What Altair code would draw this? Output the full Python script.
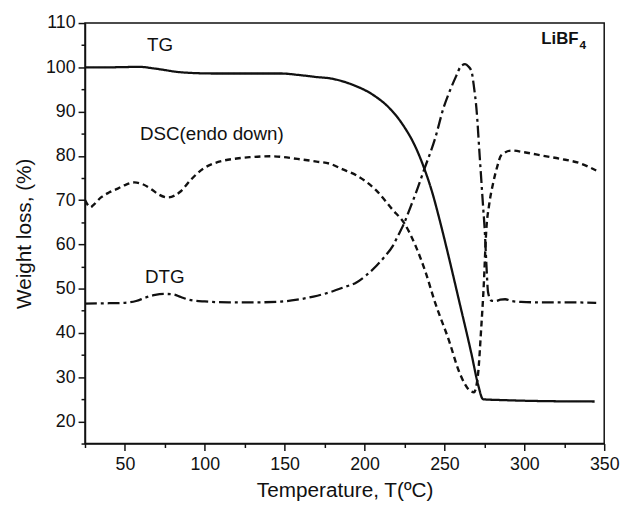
import altair as alt
import pandas as pd

# ---- data ----
tg_T = [25, 40, 59, 69, 86, 106, 148, 158, 170, 178.4, 192.9, 205.2, 215.5, 223.8, 232, 237.1, 242.3, 247, 252, 259, 267, 271, 274.2, 288, 310, 344]
tg_y = [100.0, 100.0, 100.1, 99.7, 98.85, 98.6, 98.6, 98.3, 97.8, 97.5, 96.0, 93.8, 90.8, 87.1, 81.9, 77.4, 71.8, 65.5, 58.2, 47.5, 35.1, 28.4, 25.0, 24.8, 24.6, 24.5]

dsc_T = [25, 28.5, 30, 35, 40, 45.5, 50, 56, 61, 66, 71, 77, 81, 85, 91, 99, 105, 111.5, 120, 128, 142, 158, 170, 178.4, 186, 194.9, 207.3, 217.6, 224.8, 232, 238.2, 244, 253, 259, 263, 266, 268.5, 271, 273, 274.5, 276.2, 278, 280.4, 283, 285.5, 292, 300, 312, 323, 335, 345]
dsc_y = [70.0, 68.4, 68.8, 70.6, 71.7, 72.6, 73.4, 74.0, 73.6, 72.6, 71.3, 70.6, 71.0, 72.0, 74.5, 77.1, 78.2, 78.9, 79.4, 79.7, 79.9, 79.3, 78.7, 78.2, 77.0, 75.6, 72.2, 67.8, 64.8, 59.6, 53.7, 47.0, 38.1, 31.4, 28.3, 26.9, 26.6, 30.6, 41.0, 50.0, 63.3, 69.0, 73.7, 77.5, 80.1, 81.2, 80.8, 80.0, 79.3, 78.3, 76.7]

dtg_T = [25, 40, 50, 57, 63, 69, 75, 80, 85, 90, 100, 115, 130, 145, 157.8, 168, 178.4, 187, 194.9, 201, 207.3, 212.5, 217.6, 221, 224.8, 228.5, 232, 237.1, 244.3, 249.4, 253.5, 257.7, 260, 262.9, 265, 267, 268.5, 270, 272.1, 274.2, 275.2, 276.2, 277.3, 279.3, 282, 285, 288, 292, 298, 310, 325, 345]
dtg_y = [46.6, 46.7, 46.8, 47.2, 48.0, 48.6, 48.8, 48.7, 48.1, 47.5, 47.1, 46.9, 46.9, 47.0, 47.5, 48.2, 49.2, 50.3, 51.4, 53.0, 55.1, 57.2, 59.6, 62.0, 64.8, 68.2, 71.5, 76.7, 84.1, 90.8, 94.8, 98.3, 100.1, 100.7, 100.2, 99.0, 95.5, 90.8, 79.7, 68.5, 63.3, 55.9, 49.2, 47.3, 47.2, 47.5, 47.6, 47.2, 47.0, 46.9, 46.9, 46.8]

ann_text = ["TG", "DSC(endo down)", "DTG"]
ann_x = [72, 104.4, 75]
ann_y = [105, 85, 52.7]

title_main = "LiBF"
title_sub = "4"
title_x = [333.9]
title_y = [105.3]

x_ticks = list(range(25, 351, 25))
y_ticks = list(range(15, 111, 5))

FONT = "Liberation Sans"
INK = "#111111"

xs = alt.Scale(domain=[25, 350], nice=False, zero=False)
ys = alt.Scale(domain=[15, 110], nice=False, zero=False)

xaxis = alt.Axis(
    values=x_ticks,
    labelExpr="datum.value % 50 === 0 ? datum.label : ''",
    tickSize={"condition": {"test": "datum.value % 50 === 0", "value": 7}, "value": 4},
    title="Temperature, T(ºC)",
    grid=False,
    labelPadding=5,
    titlePadding=7,
)
yaxis = alt.Axis(
    values=y_ticks,
    labelExpr="datum.value % 10 === 0 ? datum.label : ''",
    tickSize={"condition": {"test": "datum.value % 10 === 0", "value": 7}, "value": 4},
    title="Weight loss, (%)",
    grid=False,
    labelPadding=3,
    titlePadding=11,
)

tg = pd.DataFrame({"T": tg_T, "v": tg_y})
dsc = pd.DataFrame({"T": dsc_T, "v": dsc_y})
dtg = pd.DataFrame({"T": dtg_T, "v": dtg_y})
ann = pd.DataFrame({"label": ann_text, "T": ann_x, "v": ann_y})
ttl = pd.DataFrame({"T": title_x, "v": title_y})

pos = dict(x=alt.X("T:Q", scale=xs, axis=xaxis), y=alt.Y("v:Q", scale=ys, axis=yaxis))


def line(df, dash, w):
    return alt.Chart(df).mark_line(
        color=INK, strokeWidth=w, strokeDash=dash, interpolate="monotone", clip=True
    ).encode(**pos)


l_tg = line(tg, [1, 0], 2.3)
l_dsc = line(dsc, [6, 4], 2.4)
l_dtg = line(dtg, [12, 4, 3, 4], 2.3)

t_ann = alt.Chart(ann).mark_text(
    font=FONT, fontSize=19, color=INK, align="center", baseline="middle"
).encode(text="label:N", **pos)

t_main = alt.Chart(ttl).mark_text(
    font=FONT, fontSize=17, fontWeight="bold", color=INK, align="right", baseline="alphabetic",
    text=title_main,
).encode(**pos)

t_sub = alt.Chart(ttl).mark_text(
    font=FONT, fontSize=12, fontWeight="bold", color=INK, align="left", baseline="alphabetic",
    dx=1, dy=5, text=title_sub,
).encode(**pos)

chart = alt.layer(l_tg, l_dsc, l_dtg, t_ann, t_main, t_sub).properties(
    width=526, height=426,
    padding={"left": 5, "top": 3, "right": 0, "bottom": 0},
).configure_view(
    stroke=INK, strokeWidth=1.5
).configure_axis(
    labelFont=FONT, labelFontSize=18, labelColor=INK,
    titleFont=FONT, titleFontSize=21, titleFontWeight="normal", titleColor=INK,
    domainColor=INK, domainWidth=1.5, tickColor=INK, tickWidth=1.5,
    labelFlush=False, labelOverlap=False,
)

chart.save("out.html", embed_options={"renderer": "svg", "actions": False})
